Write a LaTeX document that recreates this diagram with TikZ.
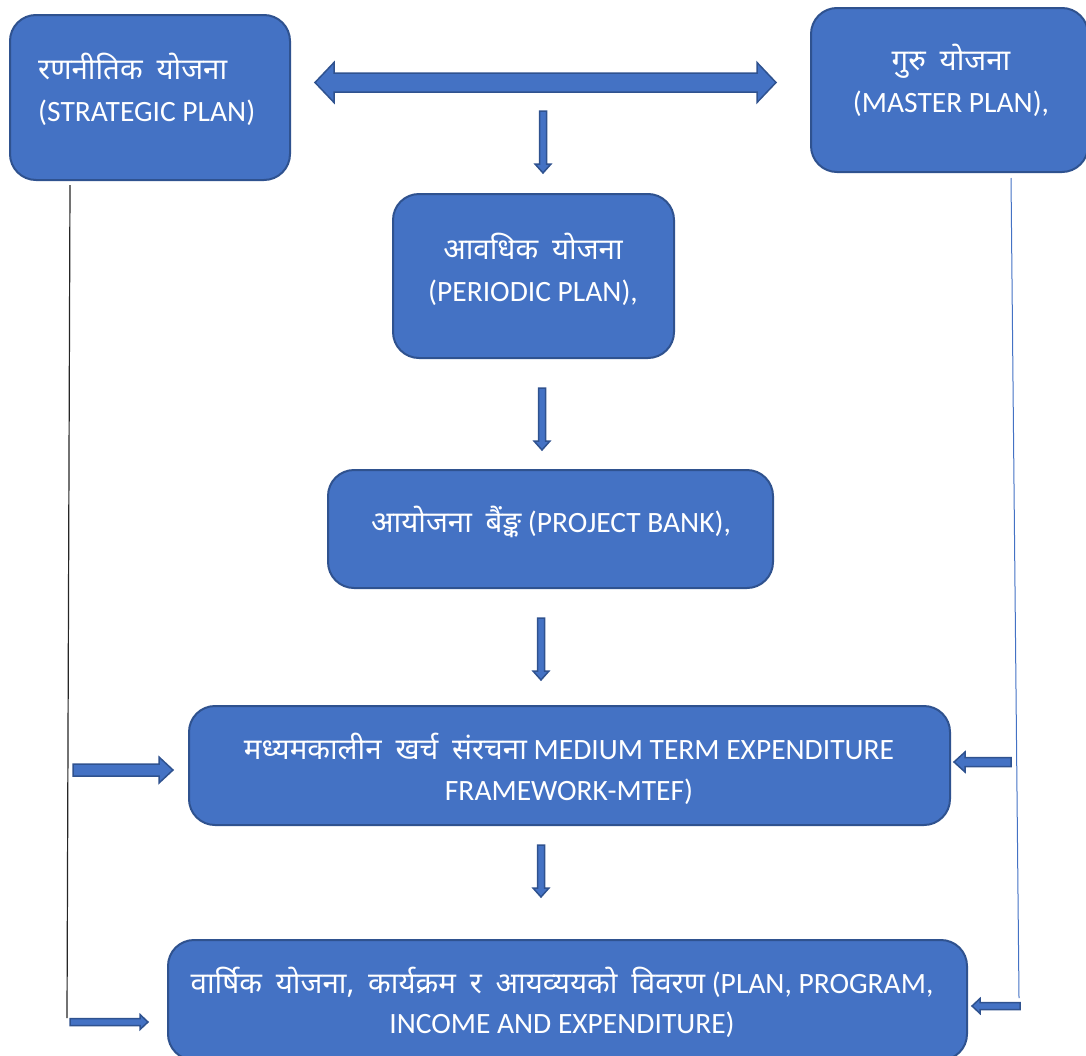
\documentclass[tikz,border=0pt]{standalone}
\usepackage{fontspec}
\setmainfont{Carlito}
\newfontfamily\deva[Script=Devanagari, WordSpace=1.8]{Noto Sans}
\usetikzlibrary{calc}

\definecolor{boxblue}{HTML}{4472C4}
\definecolor{boxline}{HTML}{2F528F}

\tikzset{
    planbox/.style={draw=boxline, fill=boxblue, line width=2pt, rounded corners=26pt, inner sep=0pt},
    plantext/.style={text=white, font=\fontsize{29.5}{42}\selectfont, align=center, inner sep=0pt},
    arrowbody/.style={draw=boxline, fill=boxblue, line width=1.5pt, line join=miter},
}

% block arrow: from, to, half shaft, half head, head length
\newcommand{\fatarrow}[5]{%
    \coordinate (fa-h) at ($(#2)!#5!(#1)$);
    \filldraw[arrowbody] ($(#1)!#3!90:(#2)$) -- ($(fa-h)!#3!90:(#2)$) -- ($(fa-h)!#4!90:(#2)$)
        -- (#2) -- ($(fa-h)!#4!-90:(#2)$) -- ($(fa-h)!#3!-90:(#2)$) -- ($(#1)!#3!-90:(#2)$) -- cycle;
}
% block arrow with two heads
\newcommand{\fatdarrow}[5]{%
    \coordinate (fa-p) at ($(#1)!#5!(#2)$);
    \coordinate (fa-q) at ($(#2)!#5!(#1)$);
    \filldraw[arrowbody] (#1) -- ($(fa-p)!#4!90:(#2)$) -- ($(fa-p)!#3!90:(#2)$) -- ($(fa-q)!#3!90:(#2)$)
        -- ($(fa-q)!#4!90:(#2)$) -- (#2) -- ($(fa-q)!#4!-90:(#2)$) -- ($(fa-q)!#3!-90:(#2)$)
        -- ($(fa-p)!#3!-90:(#2)$) -- ($(fa-p)!#4!-90:(#2)$) -- cycle;
}

\begin{document}
\begin{tikzpicture}[x=1pt, y=-1pt]
    \useasboundingbox (0,0) rectangle (1086,1055);

    % boxes
    \node[planbox, minimum width=280, minimum height=165] (strat) at (150,97.5) {};
    \node[planbox, minimum width=277, minimum height=164] (master) at (949.5,90) {};
    \node[planbox, minimum width=281, minimum height=164] (periodic) at (533.5,276) {};
    \node[planbox, minimum width=445, minimum height=118] (bank) at (550.5,529) {};
    \node[planbox, minimum width=761, minimum height=119] (mtef) at (569.5,765.5) {};
    \node[planbox, minimum width=799, minimum height=120] (annual) at (567.5,1000) {};

    % texts
    \node[plantext, align=left, anchor=west] (strattext) at (38,89) {{\deva रणनीतिक योजना}\\(STRATEGIC PLAN)};
    \node[plantext] (mastertext) at (951,80) {{\deva गुरु योजना}\\(MASTER PLAN),};
    \node[plantext] (periodictext) at (533,269.5) {{\deva आवधिक योजना}\\(PERIODIC PLAN),};
    \node[plantext] (banktext) at (551,522) {{\deva आयोजना बैंङ्क} (PROJECT BANK),};
    \node[plantext, font=\fontsize{29.5}{41}\selectfont] (mteftext) at (569,769) {{\deva मध्यमकालीन खर्च संरचना} MEDIUM TERM EXPENDITURE\\FRAMEWORK-MTEF)};
    \node[plantext, font=\fontsize{29.5}{40}\selectfont] (annualtext) at (562,1002) {{\deva वार्षिक योजना, कार्यक्रम र आयव्ययको विवरण} (PLAN, PROGRAM,\\INCOME AND EXPENDITURE)};

    % free ends of the connectors
    \coordinate (dl) at (315,82.5);
    \coordinate (dr) at (776,82.5);
    \coordinate (d1a) at (543,111);   \coordinate (d1b) at (543,173);
    \coordinate (d2a) at (542,388);   \coordinate (d2b) at (542,450);
    \coordinate (d3a) at (541,618);   \coordinate (d3b) at (541,680);
    \coordinate (d4a) at (541,845);   \coordinate (d4b) at (541,897);
    \coordinate (ltop) at (70,185);   \coordinate (lbot) at (67,1018);
    \coordinate (rtop) at (1011,178); \coordinate (rbot) at (1019,998);
    \coordinate (la1) at (73,770);    \coordinate (la2) at (173,770);
    \coordinate (lb1) at (70,1022);   \coordinate (lb2) at (148,1022);
    \coordinate (rc1) at (1011,762);  \coordinate (rc2) at (954,762);
    \coordinate (rd1) at (1020,1006); \coordinate (rd2) at (972,1006);

    % connectors
    \fatdarrow{dl}{dr}{9.5pt}{20pt}{19pt}
    \fatarrow{d1a}{d1b}{3.5pt}{8pt}{9pt}
    \fatarrow{d2a}{d2b}{3.5pt}{8pt}{9pt}
    \fatarrow{d3a}{d3b}{3.5pt}{8pt}{9pt}
    \fatarrow{d4a}{d4b}{3.5pt}{8pt}{9pt}

    \draw[line width=1.2pt, black!85] (ltop) -- (lbot);
    \draw[line width=1pt, boxblue] (rtop) -- (rbot);

    \fatarrow{la1}{la2}{6pt}{13pt}{14pt}
    \fatarrow{lb1}{lb2}{3.5pt}{7.5pt}{8pt}
    \fatarrow{rc1}{rc2}{4.5pt}{10pt}{11pt}
    \fatarrow{rd1}{rd2}{3.5pt}{7.5pt}{8pt}
\end{tikzpicture}
\end{document}
